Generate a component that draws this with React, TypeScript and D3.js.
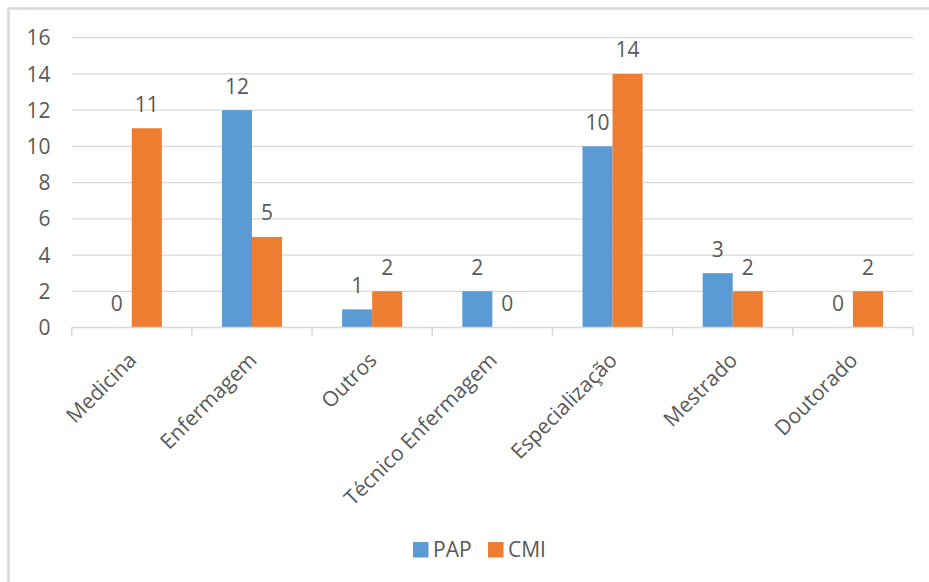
import React from "react";
import * as d3 from "d3";

// Formação dos profissionais por grupo (PAP x CMI)
const categories = [
  "Medicina",
  "Enfermagem",
  "Outros",
  "Técnico Enfermagem",
  "Especialização",
  "Mestrado",
  "Doutorado",
];
const papValues = [0, 12, 1, 2, 10, 3, 0];
const cmiValues = [11, 5, 2, 0, 14, 2, 2];
const seriesNames = ["PAP", "CMI"];
const yTicks = [0, 2, 4, 6, 8, 10, 12, 14, 16];

const WIDTH = 929;
const HEIGHT = 582;
const COLORS = ["#5b9bd5", "#ed7d31"];
const TEXT = "#595959";
const GRID = "#d9d9d9";
const FONT = "'Open Sans', 'Noto Sans', sans-serif";

export default function App() {
  const plot = { left: 71.7, right: 913, top: 37.7, bottom: 327.5 };

  const x = d3
    .scaleBand<string>()
    .domain(categories)
    .range([plot.left, plot.right])
    .paddingInner(0)
    .paddingOuter(0);

  // two bars per category, half the category width, centred
  const inner = d3
    .scaleBand<string>()
    .domain(seriesNames)
    .range([0, x.bandwidth()])
    .paddingInner(0)
    .paddingOuter(1);

  const y = d3.scaleLinear().domain([0, 16]).range([plot.bottom, plot.top]);

  const series = [papValues, cmiValues];

  const boundaries = d3.range(categories.length + 1).map((i) =>
    i < categories.length ? (x(categories[i]) as number) : plot.right
  );

  return (
    <svg
      width={WIDTH}
      height={HEIGHT}
      style={{ position: "absolute", left: 0, top: 0, background: "#fff" }}
      fontFamily={FONT}
    >
      <rect x={0} y={0} width={WIDTH} height={HEIGHT} fill="#fff" />
      {/* chart frame */}
      <rect
        x={8.5}
        y={8.5}
        width={1000}
        height={1000}
        fill="none"
        stroke={GRID}
        strokeWidth={2.5}
      />

      {/* gridlines and y tick labels */}
      {yTicks.map((t) => (
        <g key={t}>
          {t > 0 && (
            <line
              x1={plot.left}
              x2={plot.right}
              y1={y(t)}
              y2={y(t)}
              stroke={GRID}
              strokeWidth={1.3}
            />
          )}
          <text
            x={50.5}
            y={y(t) + 7.6}
            textAnchor="end"
            fontSize={21}
            fill={TEXT}
          >
            {t}
          </text>
        </g>
      ))}

      {/* bars */}
      {series.map((vals, s) =>
        categories.map((c, i) => {
          const bx = (x(c) as number) + (inner(seriesNames[s]) as number);
          const by = y(vals[i]);
          return (
            <rect
              key={`${s}-${i}`}
              x={bx}
              y={by}
              width={inner.bandwidth()}
              height={plot.bottom - by}
              fill={COLORS[s]}
            />
          );
        })
      )}

      {/* x axis line and tick marks */}
      <line
        x1={plot.left}
        x2={plot.right}
        y1={plot.bottom}
        y2={plot.bottom}
        stroke={GRID}
        strokeWidth={1.5}
      />
      {boundaries.map((bx, i) => (
        <line
          key={i}
          x1={bx}
          x2={bx}
          y1={plot.bottom}
          y2={plot.bottom + 8.6}
          stroke={GRID}
          strokeWidth={1.5}
        />
      ))}

      {/* value labels */}
      {series.map((vals, s) =>
        categories.map((c, i) => {
          const cx =
            (x(c) as number) +
            (inner(seriesNames[s]) as number) +
            inner.bandwidth() / 2;
          return (
            <text
              key={`l-${s}-${i}`}
              x={cx}
              y={y(vals[i]) - 16.5}
              textAnchor="middle"
              fontSize={21}
              fill={TEXT}
            >
              {vals[i]}
            </text>
          );
        })
      )}

      {/* category labels */}
      {categories.map((c) => {
        const cx = (x(c) as number) + x.bandwidth() / 2;
        return (
          <text
            key={c}
            transform={`translate(${cx + 6},${plot.bottom + 34}) rotate(-45)`}
            textAnchor="end"
            fontSize={21}
            fill={TEXT}
          >
            {c}
          </text>
        );
      })}

      {/* legend */}
      {seriesNames.map((name, s) => {
        const lx = [413, 488][s];
        return (
          <g key={name}>
            <rect x={lx} y={542} width={15.5} height={15.5} fill={COLORS[s]} />
            <text x={lx + 20} y={556.8} fontSize={21} fill={TEXT}>
              {name}
            </text>
          </g>
        );
      })}
    </svg>
  );
}
